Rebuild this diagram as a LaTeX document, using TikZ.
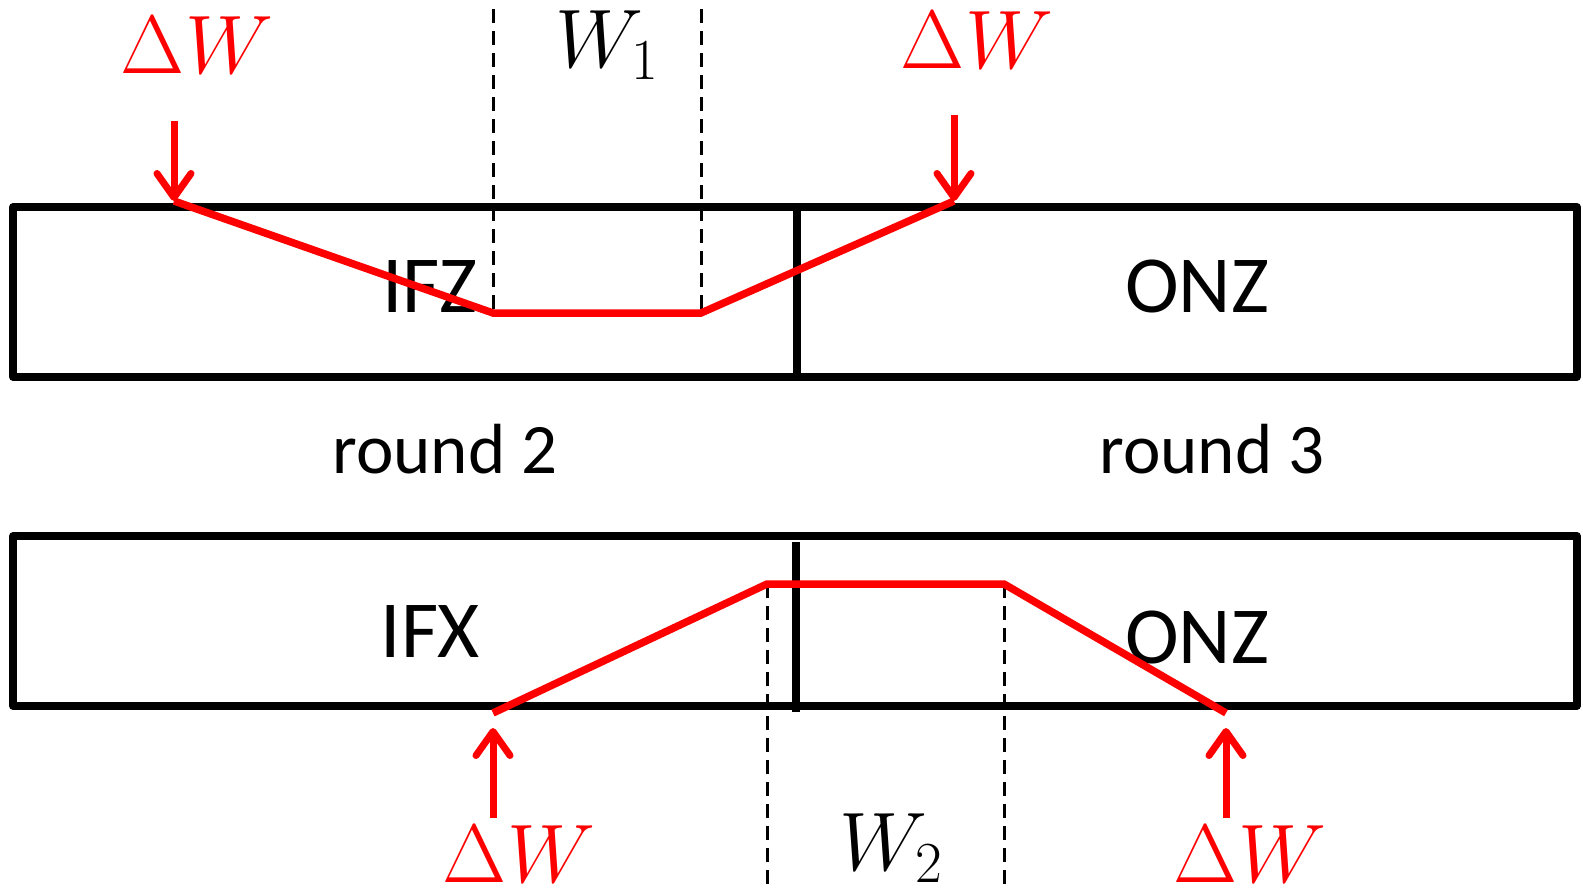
\RequirePackage{fix-cm}
\documentclass[tikz,border=0pt]{standalone}
\usepackage{fontspec}
\newfontfamily\calfont{Carlito}
\usetikzlibrary{arrows.meta}
\definecolor{pr}{RGB}{255,0,0}
\tikzset{
  boxline/.style={line width=7.5pt, line join=round, line cap=round},
  guide/.style={line width=3pt, dash pattern=on 14pt off 8pt},
  redline/.style={pr, line width=7.5pt, line join=miter},
  redarrow/.style={pr, line width=7pt, -{Straight Barb[length=24pt,width=34pt,line cap=round,line join=round]}},
  zonelab/.style={font=\calfont\fontsize{81}{90}\selectfont, inner sep=0pt, anchor=base},
  roundlab/.style={font=\calfont\fontsize{71}{80}\selectfont, inner sep=0pt, anchor=base},
  mathlab/.style={font=\fontsize{83}{90}\selectfont, inner sep=0pt, anchor=base},
}
\begin{document}
\begin{tikzpicture}[x=1pt,y=-1pt]
\useasboundingbox (0,0) rectangle (1583,889);
% boxes
\draw[boxline] (13,207) rectangle (1577,377);
\draw[boxline] (797,207) -- (797,377);
\draw[boxline] (13,536) rectangle (1577,706);
\draw[boxline, line width=8.5pt, line cap=butt] (796,542) -- (796,712);
% key points
\coordinate (a1) at (174,201);
\coordinate (b1) at (493,313);
\coordinate (c1) at (701,313);
\coordinate (d1) at (954,201);
\coordinate (a2) at (493,713);
\coordinate (b2) at (767,584);
\coordinate (c2) at (1004,584);
\coordinate (d2) at (1226,713);
% guide ends
\coordinate (g1) at (493,9);
\coordinate (g2) at (701,9);
\coordinate (g3) at (767,889);
\coordinate (g4) at (1004,889);
% arrow ends
\coordinate (ta1) at (174,121);
\coordinate (td1) at (954,115);
\coordinate (ta2) at (493,818);
\coordinate (td2) at (1226,818);
\coordinate (ha2) at (493,728);
\coordinate (hd2) at (1226,728);
% dashed guides
\draw[guide] (g1) -- (b1);
\draw[guide] (g2) -- (c1);
\draw[guide] (b2) -- (g3);
\draw[guide] (c2) -- (g4);
% labels
\node[zonelab] (ifz) at (430,312) {IFZ};
\node[zonelab] (onz1) at (1197,312) {ONZ};
\node[zonelab] (ifx) at (430,657) {IFX};
\node[zonelab] (onz2) at (1197,663) {ONZ};
\node[roundlab] (r2) at (445,473) {round 2};
\node[roundlab] (r3) at (1212,473) {round 3};
% red profiles
\draw[redline] (a1) -- (b1) -- (c1) -- (d1);
\draw[redline] (a2) -- (b2) -- (c2) -- (d2);
% arrows
\draw[redarrow] (ta1) -- (a1);
\draw[redarrow] (td1) -- (d1);
\draw[redarrow] (ta2) -- (ha2);
\draw[redarrow] (td2) -- (hd2);
% math labels
\node[mathlab, pr] (dw1) at (197,73) {$\Delta W$};
\node[mathlab, pr] (dw2) at (977,68) {$\Delta W$};
\node[mathlab, pr] (dw3) at (519,882) {$\Delta W$};
\node[mathlab, pr] (dw4) at (1250,882) {$\Delta W$};
\node[mathlab] (w1) at (607,67) {$W_1$};
\node[mathlab] (w2) at (891,870) {$W_2$};
\end{tikzpicture}
\end{document}
